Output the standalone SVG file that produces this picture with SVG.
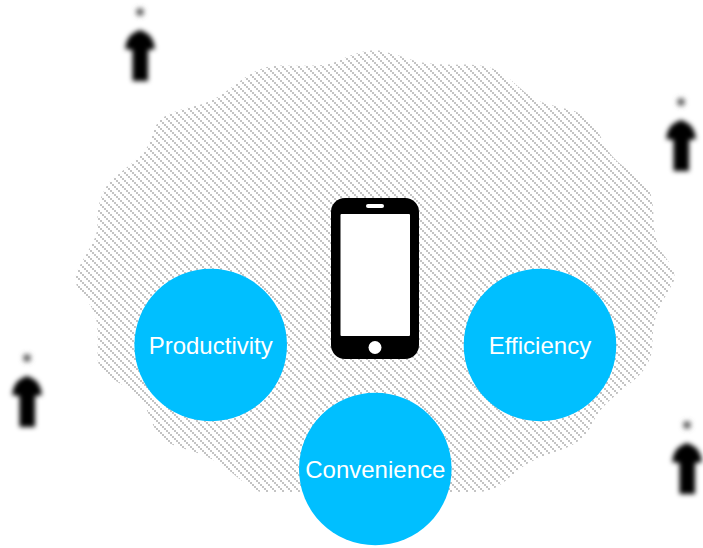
<svg xmlns="http://www.w3.org/2000/svg" width="703" height="548" viewBox="0 0 703 548">
<style>
.bubble{fill:#00bfff}
.label{fill:#fff;font:24px "Liberation Sans",Arial,sans-serif;text-anchor:middle}
</style>
<defs>
<pattern id="hatch" width="8" height="8" patternUnits="userSpaceOnUse" shape-rendering="crispEdges">
<path fill="#c4c4c4" d="M0 0h2v2H0zM2 2h2v2H2zM4 4h2v2H4zM6 6h2v2H6z"/>
</pattern>
<filter id="soft" x="-40%" y="-40%" width="180%" height="180%"><feGaussianBlur stdDeviation="2.4"/></filter>
<g id="person" filter="url(#soft)">
<circle cx="140" cy="12" r="4" fill="#666"/>
<path fill="#000" d="M132.500 81V50L125 49L126.500 42Q130 33 140 30Q150 33 153.500 42L155 49L148 50V81Z"/>
</g>
</defs>
<g id="cloud"><path fill="url(#hatch)" d="M255 71.5Q267 65 283.5 65.5Q300 66 315 65.5Q330 65 340 60Q350 55 361.5 52Q373 49 384 51.5Q395 54 407.5 58.5Q420 63 435 64Q450 65 463.5 64.5Q477 64 488.5 67Q500 70 516.5 85Q533 100 545.5 103.5Q558 107 569 109.5Q580 112 588.5 120Q597 128 603.5 142.5Q610 157 625 167.5Q640 178 646.5 185.5Q653 193 653.5 217.5Q654 242 663.5 254.5Q673 267 674 272.5Q675 278 674 280.5Q673 283 662.5 301.5Q652 320 652.5 342.5Q653 365 633 381Q613 397 605 405Q597 413 590 428Q583 443 556.5 451.5Q530 460 518.5 470Q507 480 498.5 486Q490 492 475 492L260 492Q250 488 231.5 472.5Q213 457 191.5 451Q170 445 163.5 440Q157 435 153.5 426Q150 417 145 406Q140 395 125 386.5Q110 378 103.5 371.5Q97 365 97.5 356Q98 347 97.5 330Q97 313 87.5 301.5Q78 290 76.5 285Q75 280 76 275Q77 270 83.5 259Q90 248 94 240Q98 232 97.5 219.5Q97 207 102 195Q107 183 113.5 178Q120 173 131 164Q142 155 146 149Q150 143 153.5 131.5Q157 120 167 115Q177 110 195 106Q213 102 228 90Q243 78 255 71.5Z"/></g>
<g id="person-1"><use href="#person"/></g>
<g id="person-2"><use href="#person" x="541" y="90"/></g>
<g id="person-3"><use href="#person" x="-113" y="346"/></g>
<g id="person-4"><use href="#person" x="547" y="413"/></g>
<g id="phone">
<rect x="331" y="198" width="88" height="161" rx="14" fill="#000"/>
<rect x="340.5" y="214" width="69.5" height="122" rx="1" fill="#fff"/>
<rect x="366" y="204" width="18" height="4" rx="2" fill="#fff"/>
<circle cx="375" cy="347.5" r="6.5" fill="#fff"/>
</g>
<g id="productivity"><circle class="bubble" cx="210.7" cy="345" r="76.3"/><text class="label" x="210.7" y="353.5">Productivity</text></g>
<g id="efficiency"><circle class="bubble" cx="540" cy="345" r="76.3"/><text class="label" x="540" y="353.5">Efficiency</text></g>
<g id="convenience"><circle class="bubble" cx="375.3" cy="469" r="76.3"/><text class="label" x="375.3" y="478">Convenience</text></g>
</svg>
